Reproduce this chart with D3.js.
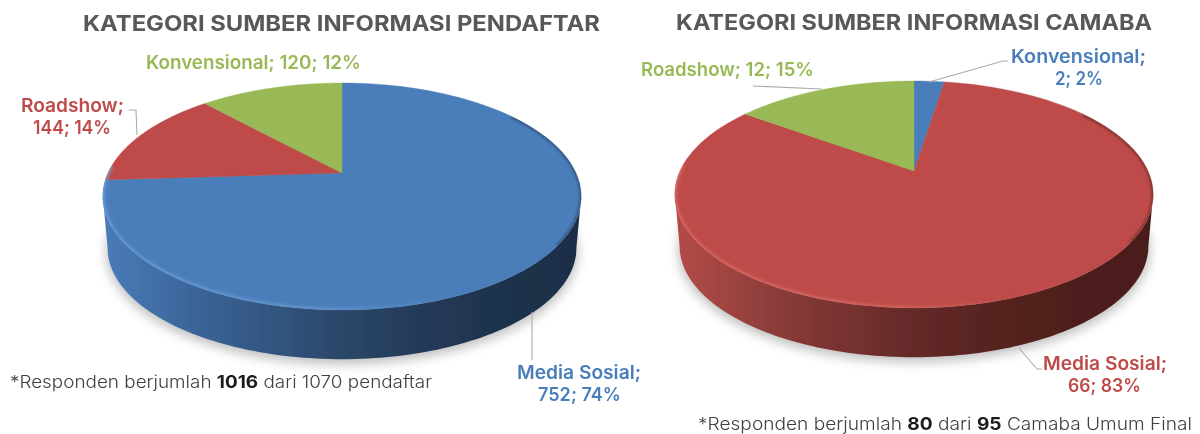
<!DOCTYPE html>
<html><head><meta charset="utf-8">
<script src="https://cdn.jsdelivr.net/npm/d3@7"></script>
<style>html,body{margin:0;padding:0;background:#fff}svg{display:block}text{font-family:Inter,"Open Sans",sans-serif}</style>
</head><body><div id="c"></div>
<script>
// Data
const titles = ["KATEGORI SUMBER INFORMASI PENDAFTAR", "KATEGORI SUMBER INFORMASI CAMABA"];
const categoriesA = ["Media Sosial", "Roadshow", "Konvensional"];
const valuesA = [752, 144, 120];
const percentsA = [74, 14, 12];
const categoriesB = ["Konvensional", "Media Sosial", "Roadshow"];
const valuesB = [2, 66, 12];
const percentsB = [2, 83, 15];
const colorBlue = "#4a7ebb", colorRed = "#be4b48", colorGreen = "#98b954";
const colorsA = [colorBlue, colorRed, colorGreen];
const colorsB = [colorBlue, colorRed, colorGreen];

const W = 1200, H = 434;
const svg = d3.select("#c").append("svg").attr("width", W).attr("height", H);
const defs = svg.append("defs");
[["blur8", 6], ["blur2", 1.5], ["soft", 0.45], ["softText", 0.3]].forEach(([id, s]) => {
  defs.append("filter").attr("id", id).attr("x", "-20%").attr("y", "-20%").attr("width", "140%").attr("height", "140%")
    .append("feGaussianBlur").attr("stdDeviation", s);
});
const textLayer = () => svg.append("g").attr("filter", "url(#softText)");

function pie3d(id, cx, cy, values, colors, wallStops, rimLight) {
  const persp = 0.207, ax = 234, by = 108.6, depth = 52, baseScale = 0.98;
  const xS = d3.scaleLinear().domain([-1, 1]).range([cx - ax, cx + ax]);
  const yS = d3.scaleLinear().domain([-1, 1]).range([cy + by, cy - by]);
  const proj = (t, s = 1, dy = 0) => {
    const w = 1 + persp * Math.cos(t);
    return [xS(s * Math.sin(t) / w), yS(s * Math.cos(t) / w) + dy];
  };
  const line = d3.line();
  const sweep = (a, b, s, dy) => d3.range(0, 121).map(i => proj(a + (b - a) * i / 120, s, dy));
  const g = svg.append("g").attr("filter", "url(#soft)");
  const tExt = Math.acos(-persp);
  const full = sweep(0, 2 * Math.PI, 1, 0);

  // soft shadow
  g.append("path").attr("d", line(sweep(0, 2 * Math.PI, baseScale + 0.005, depth + 4)) + "Z")
    .attr("fill", "#000").attr("opacity", 0.26).attr("filter", "url(#blur8)");

  // side wall
  const grad = defs.append("linearGradient").attr("id", "wall" + id).attr("gradientUnits", "userSpaceOnUse")
    .attr("x1", cx - ax - 5).attr("x2", cx + ax + 5).attr("y1", 0).attr("y2", 0);
  wallStops.forEach((c, i) => grad.append("stop").attr("offset", i / (wallStops.length - 1)).attr("stop-color", c));
  const wallPts = sweep(tExt, 2 * Math.PI - tExt, 1, 0).concat(sweep(2 * Math.PI - tExt, tExt, baseScale, depth));
  g.append("path").attr("d", line(wallPts) + "Z").attr("fill", `url(#wall${id})`);

  // top face slices
  const arcs = d3.pie().sort(null).startAngle(0).endAngle(2 * Math.PI)(values);
  arcs.forEach((d, i) => {
    const pts = [[xS(0), yS(0)]].concat(sweep(d.startAngle, d.endAngle, 1, 0));
    g.append("path").attr("d", line(pts) + "Z").attr("fill", colors[i]).attr("stroke", colors[i]).attr("stroke-width", 0.4);
  });

  // bevel on the rim, clipped to the top face
  const clip = defs.append("clipPath").attr("id", "top" + id);
  clip.append("path").attr("d", line(full) + "Z");
  const rimGrad = defs.append("linearGradient").attr("id", "rim" + id).attr("gradientUnits", "userSpaceOnUse")
    .attr("x1", cx - ax).attr("x2", cx + ax).attr("y1", 0).attr("y2", 0);
  [[0, 0.9], [0.45, 0.75], [0.72, 0]].forEach(([o, a]) =>
    rimGrad.append("stop").attr("offset", o).attr("stop-color", rimLight).attr("stop-opacity", a));
  const bevel = g.append("g").attr("clip-path", `url(#top${id})`);
  bevel.append("path").attr("d", line(sweep(Math.PI * 0.8, Math.PI * 1.52, 1, 0)))
    .attr("fill", "none").attr("stroke", `url(#rim${id})`).attr("stroke-width", 3.5).attr("filter", "url(#blur2)");
  bevel.append("path").attr("d", line(sweep(Math.PI * 0.3, Math.PI * 0.7, 1, 0)))
    .attr("fill", "none").attr("stroke", "#000").attr("stroke-opacity", 0.4).attr("stroke-width", 3).attr("filter", "url(#blur2)");
}

pie3d("A", 342, 173, valuesA, colorsA, ["#4a7cb8", "#3c679c", "#335783", "#2b4768", "#233a57", "#1e334d", "#1c2e46"], "#6f9fd8");
pie3d("B", 914, 171, valuesB, colorsB, ["#b54b48", "#93403d", "#7a3331", "#642a28", "#55231f", "#4e1f1c", "#4a1d1a"], "#dc6d69");

// leader lines
const leaders = [
  [[129, 110], [136, 110], [137, 135]],
  [[532, 312], [532, 360]],
  [[929, 82], [1003, 61], [1008, 61]],
  [[753, 86], [822, 89]],
  [[1019, 348], [1037, 369], [1042, 369]]
];
svg.selectAll("path.leader").data(leaders).join("path").attr("class", "leader")
  .attr("d", d3.line()).attr("fill", "none").attr("stroke", "#ababab").attr("stroke-width", 1.1);

const texts = textLayer();
function label(str, x1, x2, base, size, weight, fill) {
  return texts.append("text").attr("x", x1).attr("y", base).attr("font-size", size).attr("font-weight", weight)
    .attr("fill", fill).attr("textLength", x2 - x1).attr("lengthAdjust", "spacingAndGlyphs").text(str);
}
const lab = (cats, vals, pcts, i) => [`${cats[i]};`, `${vals[i]}; ${pcts[i]}%`];
const LS = 18.5;

label(titles[0], 83, 600, 31, 21.5, 700, "#595959");
label(titles[1], 676, 1152, 30, 21.5, 700, "#595959");

// left pie labels
let t = lab(categoriesA, valuesA, percentsA, 2);
label(`${t[0]} ${t[1]}`, 146, 361, 68.5, LS, 600, colorGreen);
t = lab(categoriesA, valuesA, percentsA, 1);
label(t[0], 21, 124, 111.5, LS, 600, colorRed);
label(t[1], 33, 111, 133.5, LS, 600, colorRed);
t = lab(categoriesA, valuesA, percentsA, 0);
label(t[0], 517, 641, 378.5, LS, 600, colorBlue);
label(t[1], 538, 621, 401, LS, 600, colorBlue);

// right pie labels
t = lab(categoriesB, valuesB, percentsB, 0);
label(t[0], 1011, 1146, 62.5, LS, 600, colorBlue);
label(t[1], 1055, 1103, 85, LS, 600, colorBlue);
t = lab(categoriesB, valuesB, percentsB, 2);
label(`${t[0]} ${t[1]}`, 641, 814, 75.5, LS, 600, colorGreen);
t = lab(categoriesB, valuesB, percentsB, 1);
label(t[0], 1043, 1167, 369.5, LS, 600, colorRed);
label(t[1], 1068, 1141, 391.5, LS, 600, colorRed);

// footnotes
function foot(parts, x1, x2, base, size) {
  const e = texts.append("text").attr("x", x1).attr("y", base).attr("font-size", size).attr("fill", "#404040")
    .attr("textLength", x2 - x1).attr("lengthAdjust", "spacingAndGlyphs");
  parts.forEach(([s, b]) => e.append("tspan").attr("font-weight", b ? 700 : 300).attr("fill", b ? "#1f1f1f" : "#404040").text(s));
}
foot([["*Responden berjumlah ", 0], ["1016", 1], [" dari 1070 pendaftar", 0]], 10, 432, 388, 17);
foot([["*Responden berjumlah ", 0], ["80", 1], [" dari ", 0], ["95", 1], [" Camaba Umum Final", 0]], 698, 1192, 430, 17.5);
</script></body></html>
